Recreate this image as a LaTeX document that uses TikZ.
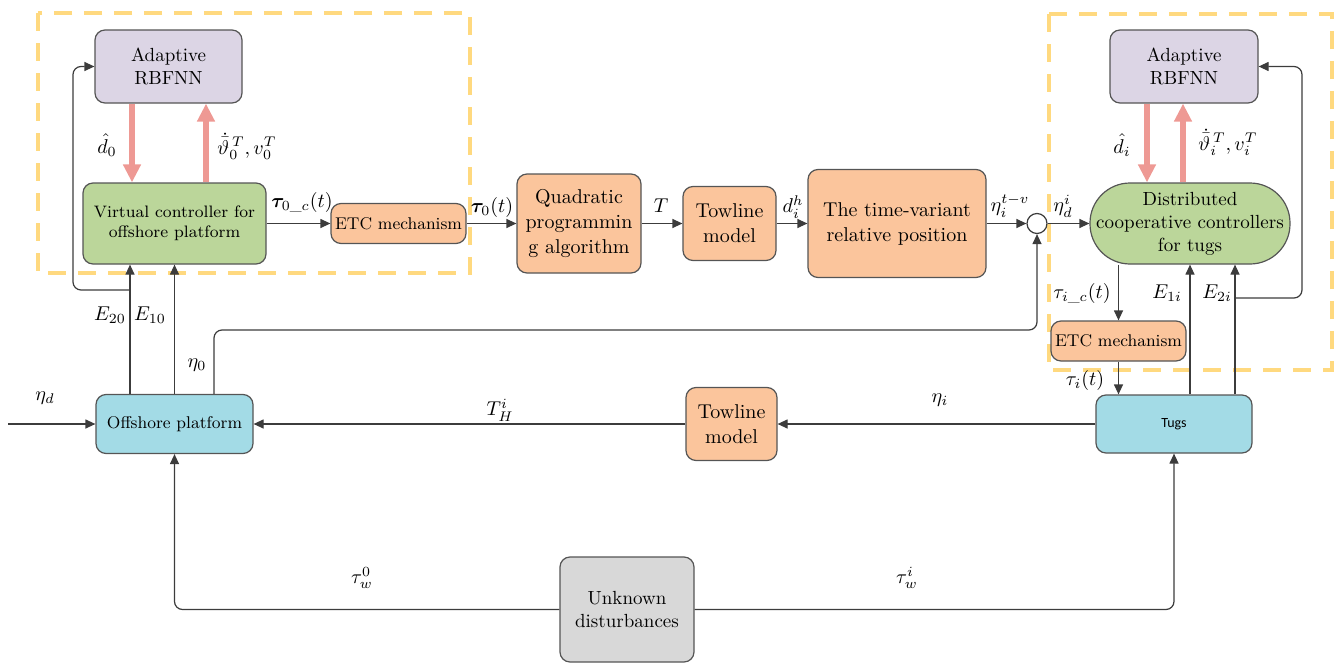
\documentclass[tikz,border=0pt]{standalone}
\usepackage{amsmath,bm}
\usepackage{fontspec}
\newfontfamily\carl{Carlito}
\usetikzlibrary{arrows.meta,calc}
\definecolor{lav}{HTML}{DCD5E5}
\definecolor{grn}{HTML}{BBD69A}
\definecolor{org}{HTML}{FBC59C}
\definecolor{blu}{HTML}{A3DBE6}
\definecolor{gry}{HTML}{D8D8D8}
\definecolor{yel}{HTML}{FFD97F}
\definecolor{pinkc}{HTML}{EE9994}
\definecolor{lineclr}{HTML}{3C3C3C}
\definecolor{boxline}{HTML}{555555}
\tikzset{
 box/.style={draw=boxline, rounded corners=5pt, align=center, inner sep=1pt, line width=0.6pt},
 conn/.style={draw=lineclr, line width=0.6pt, -{Triangle[length=5pt,width=4.5pt]}},
 plain/.style={draw=lineclr, line width=0.6pt},
 pinkarr/.style={draw=pinkc, line width=2.6pt, -{Triangle[length=9pt,width=8.5pt]}},
 ydash/.style={draw=yel, line width=1.6pt, dash pattern=on 9pt off 6pt},
 lbl/.style={inner sep=0pt, font=\fontsize{10}{12}\selectfont},
 f95/.style={font=\fontsize{9.5}{11.5}\selectfont},
 f10/.style={font=\fontsize{10}{12.5}\selectfont},
 f85/.style={font=\fontsize{8.5}{10}\selectfont},
}
\begin{document}
\begin{tikzpicture}[x=0.5pt,y=-0.5pt]
\useasboundingbox (0,0) rectangle (1340,664);
% dashed groups
\draw[ydash] (38,13) rectangle (470,273);
\draw[ydash] (1049,14) rectangle (1332,370);
% nodes
\node[box, fill=lav, minimum width=73.5pt, minimum height=36.5pt, f95] (arl) at (168.5,66.5) {Adaptive\\RBFNN};
\node[box, fill=grn, minimum width=91.5pt, minimum height=40.5pt, font=\fontsize{8.3}{10}\selectfont] (vc) at (174.5,223.5) {Virtual controller for\\offshore platform};
\node[box, fill=org, minimum width=67.5pt, minimum height=20pt, f85] (etcl) at (398.5,223.5) {ETC mechanism};
\node[box, fill=org, minimum width=62pt, minimum height=49.5pt, f10] (qp) at (579,223.5) {Quadratic\\programmin\\g algorithm};
\node[box, fill=org, minimum width=46.5pt, minimum height=37pt, f10] (tl1) at (729.5,223.5) {Towline\\model};
\node[box, fill=org, minimum width=89pt, minimum height=54pt, f10] (tv) at (897,223.5) {The time-variant\\relative position};
\node[circle, draw=lineclr, fill=white, minimum size=10pt, inner sep=0pt, line width=0.6pt] (sum) at (1037,223.5) {};
\node[box, fill=grn, rounded corners=20pt, minimum width=100pt, minimum height=40.5pt, f95] (dc) at (1190,223.5) {Distributed\\cooperative controllers\\for tugs};
\node[box, fill=lav, minimum width=74pt, minimum height=36.5pt, f95] (arr) at (1184,66.5) {Adaptive\\RBFNN};
\node[box, fill=org, minimum width=67.5pt, minimum height=20pt, f85] (etcr) at (1118.5,341) {ETC mechanism};
\node[box, fill=blu, minimum width=78pt, minimum height=29pt, font=\carl\fontsize{7}{8}\selectfont] (tugs) at (1174,424) {Tugs};
\node[box, fill=org, minimum width=45.5pt, minimum height=36.5pt, f10] (tl2) at (731.5,424) {Towline\\model};
\node[box, fill=blu, minimum width=78.5pt, minimum height=29.5pt, f85] (op) at (174.5,424) {Offshore platform};
\node[box, fill=gry, minimum width=67pt, minimum height=52.5pt, f95] (ud) at (627,609.5) {Unknown\\disturbances};
% helper coordinates
\coordinate (in) at (8,424);
\coordinate (lfb) at (73,290);
\coordinate (rfb) at (1302,298);
\coordinate (eta0y) at (0,330);
% pink arrows
\draw[pinkarr] ([xshift=-18.25pt]arl.south) -- ([xshift=-18.25pt]arl.south |- vc.north);
\draw[pinkarr] ([xshift=18.75pt]arl.south |- vc.north) -- ([xshift=18.75pt]arl.south);
\draw[pinkarr] ([xshift=-18.5pt]arr.south) -- ([xshift=-18.5pt]arr.south |- dc.north);
\draw[pinkarr] ([xshift=-0.5pt]arr.south |- dc.north) -- ([xshift=-0.5pt]arr.south);
% top row
\draw[conn] (vc.east) -- (etcl.west);
\draw[conn] (etcl.east) -- (qp.west);
\draw[conn] (qp.east) -- (tl1.west);
\draw[conn] (tl1.east) -- (tv.west);
\draw[conn] (tv.east) -- (sum.west);
\draw[conn] (sum.east) -- (dc.west);
% right column
\draw[conn] (etcr.north |- dc.south) -- (etcr.north);
\draw[conn] (etcr.south) -- (etcr.south |- tugs.north);
\draw[conn] ([xshift=8pt]tugs.north) -- ([xshift=8pt]tugs.north |- dc.south);
\draw[conn] ([xshift=30.5pt]tugs.north) -- ([xshift=30.5pt]tugs.north |- dc.south);
\draw[conn, rounded corners=4pt] ([xshift=30.5pt]tugs.north |- rfb) -- (rfb) |- (arr.east);
% left column
\draw[conn] ([xshift=-22.25pt]op.north) -- ([xshift=-22.25pt]op.north |- vc.south);
\draw[conn] (op.north) -- (op.north |- vc.south);
\draw[conn, rounded corners=4pt] ([xshift=-22.25pt]op.north |- lfb) -- (lfb) |- (arl.west);
\draw[conn, rounded corners=4pt] ([xshift=19.75pt]op.north) -- ([xshift=19.75pt]op.north |- eta0y) -| (sum.south);
% bottom row
\draw[conn] (in) -- (op.west);
\draw[conn] (tugs.west) -- (tl2.east);
\draw[conn] (tl2.west) -- (op.east);
\draw[conn, rounded corners=4pt] (ud.west) -| (op.south);
\draw[conn, rounded corners=4pt] (ud.east) -| (tugs.south);
% labels
\node[lbl] (l1) at (107,145) {$\hat d_0$};
\node[lbl] (l2) at (247,146) {$\dot{\bar{\vartheta}}_0^{\,T}, v_0^T$};
\node[lbl] (l3) at (302,202) {$\bm{\tau}_{0\_c}(t)$};
\node[lbl] (l4) at (492,207) {$\bm{\tau}_0(t)$};
\node[lbl] (l5) at (661,206) {$T$};
\node[lbl] (l6) at (793,207) {$d_i^h$};
\node[lbl] (l7) at (1010,206) {$\eta_i^{t-v}$};
\node[lbl] (l8) at (1063,206) {$\eta_d^i$};
\node[lbl] (l9) at (1122,145) {$\hat d_i$};
\node[lbl] (l10) at (1228,142) {$\dot{\bar{\vartheta}}_i^{\,T}, v_i^T$};
\node[lbl] (l11) at (1082,293) {$\tau_{i\_c}(t)$};
\node[lbl] (l12) at (1167,293) {$E_{1i}$};
\node[lbl] (l13) at (1217,293) {$E_{2i}$};
\node[lbl] (l14) at (1085,380) {$\tau_i(t)$};
\node[lbl] (l15) at (110,315) {$E_{20}$};
\node[lbl] (l16) at (150,315) {$E_{10}$};
\node[lbl] (l17) at (197,365) {$\eta_0$};
\node[lbl] (l18) at (45,398) {$\eta_d$};
\node[lbl] (l19) at (500,410) {$T_H^i$};
\node[lbl] (l20) at (940,400) {$\eta_i$};
\node[lbl] (l21) at (362,578) {$\tau_w^0$};
\node[lbl] (l22) at (907,578) {$\tau_w^i$};
\end{tikzpicture}
\end{document}
